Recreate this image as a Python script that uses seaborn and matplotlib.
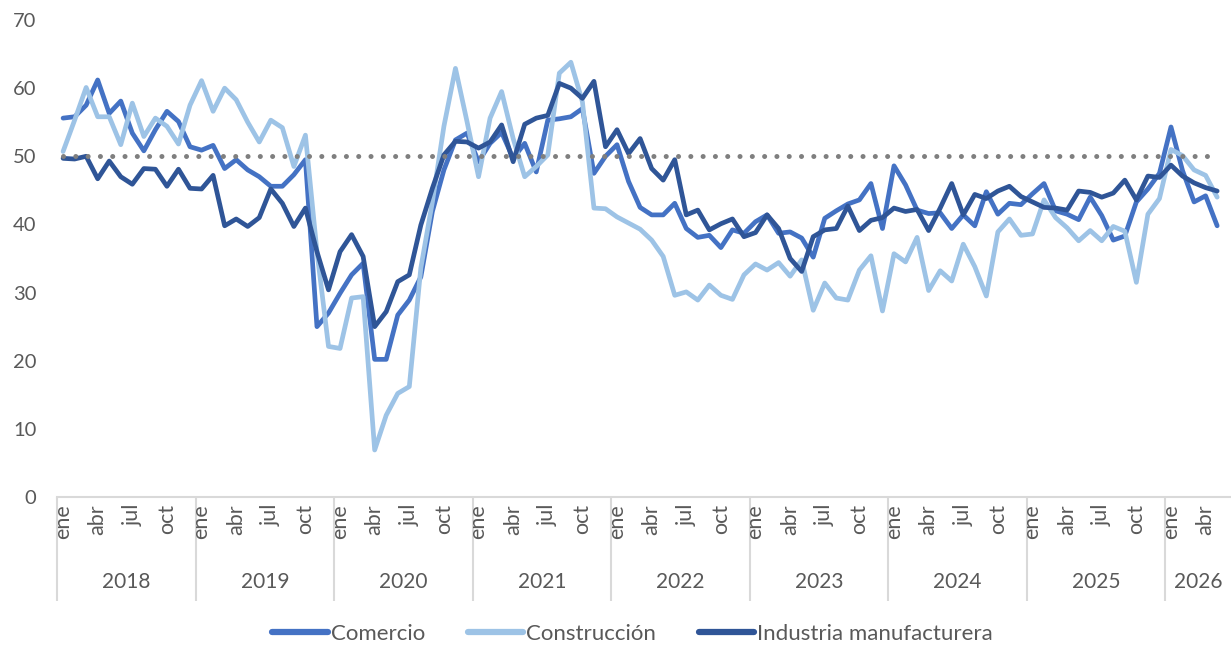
import numpy as np
import pandas as pd
import matplotlib
matplotlib.use("Agg")
import matplotlib.pyplot as plt
from matplotlib.lines import Line2D
import seaborn as sns

# ---------------- data ----------------
years = [2018, 2019, 2020, 2021, 2022, 2023, 2024, 2025, 2026]
month_abbr = ["ene", "feb", "mar", "abr", "may", "jun",
              "jul", "ago", "sep", "oct", "nov", "dic"]
shown_months = ["ene", "abr", "jul", "oct"]

comercio = [
    55.6, 55.8, 57.5, 61.2, 56.3, 58.1, 53.4, 50.8, 53.9, 56.6, 55.1, 51.4,
    50.9, 51.6, 48.2, 49.5, 48.0, 47.0, 45.6, 45.6, 47.3, 49.5, 25.0, 27.0,
    29.9, 32.6, 34.3, 20.2, 20.2, 26.7, 28.9, 32.3, 41.9, 48.0, 52.4, 53.4,
    49.2, 51.9, 53.5, 49.7, 51.9, 47.7, 55.3, 55.5, 55.8, 57.0, 47.5, 50.0,
    51.7, 46.3, 42.5, 41.4, 41.4, 43.1, 39.4, 38.1, 38.4, 36.6, 39.2, 38.7,
    40.4, 41.4, 38.7, 38.9, 38.0, 35.2, 40.9, 42.0, 43.0, 43.6, 46.0, 39.4,
    48.6, 45.8, 42.1, 41.6, 41.7, 39.4, 41.4, 39.8, 44.8, 41.5, 43.1, 42.9,
    44.5, 46.0, 42.0, 41.5, 40.7, 44.0, 41.3, 37.7, 38.3, 43.3, 45.2, 47.5,
    54.3, 47.9, 43.3, 44.2, 39.8,
]
construccion = [
    50.7, 55.3, 60.1, 55.8, 55.8, 51.7, 57.8, 52.9, 55.6, 54.4, 51.8, 57.5,
    61.1, 56.6, 60.0, 58.3, 55.0, 52.1, 55.3, 54.2, 48.5, 53.1, 36.0, 22.1,
    21.8, 29.2, 29.4, 6.9, 12.0, 15.2, 16.2, 33.6, 43.3, 54.4, 62.9, 55.1,
    47.0, 55.6, 59.5, 52.6, 47.0, 48.5, 50.2, 62.2, 63.8, 58.0, 42.4, 42.3,
    41.1, 40.2, 39.3, 37.7, 35.3, 29.6, 30.1, 28.9, 31.1, 29.6, 29.0, 32.6,
    34.2, 33.3, 34.4, 32.4, 34.8, 27.4, 31.4, 29.2, 28.9, 33.3, 35.4, 27.3,
    35.7, 34.5, 38.1, 30.3, 33.2, 31.7, 37.1, 33.8, 29.5, 38.9, 40.8, 38.4,
    38.6, 43.6, 41.0, 39.5, 37.6, 39.1, 37.6, 39.7, 39.0, 31.5, 41.5, 43.8,
    51.0, 50.1, 48.0, 47.2, 44.0,
]
industria = [
    49.7, 49.6, 50.0, 46.7, 49.3, 47.0, 45.9, 48.2, 48.1, 45.6, 48.1, 45.3,
    45.2, 47.2, 39.8, 40.8, 39.7, 41.0, 45.2, 43.1, 39.7, 42.4, 36.0, 30.4,
    36.0, 38.5, 35.3, 25.0, 27.2, 31.6, 32.6, 39.9, 45.3, 50.2, 52.2, 52.1,
    51.2, 52.1, 54.6, 49.2, 54.7, 55.6, 56.0, 60.7, 60.0, 58.5, 61.0, 51.4,
    53.9, 50.4, 52.6, 48.2, 46.5, 49.5, 41.4, 42.1, 39.2, 40.1, 40.8, 38.2,
    38.8, 41.4, 39.4, 35.0, 33.1, 38.2, 39.2, 39.4, 42.7, 39.1, 40.6, 41.0,
    42.4, 41.9, 42.2, 39.1, 42.4, 46.0, 41.4, 44.4, 43.8, 44.9, 45.6, 44.1,
    43.3, 42.5, 42.4, 42.1, 44.9, 44.7, 44.0, 44.6, 46.5, 43.6, 47.1, 46.9,
    48.7, 47.1, 46.1, 45.4, 44.9,
]
umbral = 50

series_names = ["Comercio", "Construcción", "Industria manufacturera"]
colors = ["#4472C4", "#9DC3E6", "#2F5597"]

n = len(comercio)
t = np.arange(n)
df = pd.DataFrame({
    "t": t,
    "Comercio": comercio,
    "Construcción": construccion,
    "Industria manufacturera": industria,
}).melt(id_vars="t", var_name="serie", value_name="valor")
df_umbral = pd.DataFrame({"t": t, "valor": [umbral] * n})

# ---------------- style ----------------
sns.set_style("white")
plt.rcParams["font.family"] = ["Lato", "DejaVu Sans"]
grey_txt = "#595959"
axis_grey = "#D9D9D9"

W, H = 1231, 647
fig = plt.figure(figsize=(W / 100, H / 100), dpi=100)
left_px, bottom_px, top_px = 57.3, 497, 20
ax = fig.add_axes([left_px / W, (H - bottom_px) / H,
                   (W - left_px) / W, (bottom_px - top_px) / H])

sns.lineplot(data=df, x="t", y="valor", hue="serie", hue_order=series_names,
             palette=dict(zip(series_names, colors)), linewidth=3.4,
             legend=False, ax=ax, solid_joinstyle="round", solid_capstyle="round")
sns.lineplot(data=df_umbral, x="t", y="valor", color="#7F7F7F", linewidth=3.6,
             linestyle=(0, (0.01, 2.45)), dash_capstyle="round", ax=ax, legend=False)

ax.set_xlim(-0.5, 101.2)
ax.set_ylim(0, 70)
ax.set_yticks(range(0, 71, 10))
ax.tick_params(axis="y", left=False, length=0, pad=15, labelsize=14.5, labelcolor=grey_txt)
ax.set_xlabel("")
ax.set_ylabel("")

for s in ["top", "right", "left"]:
    ax.spines[s].set_visible(False)
ax.spines["bottom"].set_color(axis_grey)
ax.spines["bottom"].set_linewidth(1.5)

# year separators as long ticks
boundaries = [12 * k - 0.5 for k in range(len(years))]
ax.set_xticks(boundaries)
ax.set_xticklabels([""] * len(boundaries))
ax.tick_params(axis="x", bottom=True, length=75, width=1.5, color=axis_grey,
               direction="out")

# month labels
for i in range(n):
    m = month_abbr[i % 12]
    if m in shown_months:
        ax.annotate(m, xy=(i, 0), xycoords=("data", "axes fraction"),
                    xytext=(0, -5), textcoords="offset points",
                    rotation=90, ha="center", va="top",
                    fontsize=15.5, color=grey_txt)

# year labels
right_lim = ax.get_xlim()[1]
for k, y in enumerate(years):
    start = 12 * k - 0.5
    end = min(start + 12, right_lim)
    ax.annotate(str(y), xy=((start + end) / 2, 0),
                xycoords=("data", "axes fraction"),
                xytext=(0, -61), textcoords="offset points",
                ha="center", va="center", fontsize=15, color=grey_txt)

handles = [Line2D([0], [0], color=c, lw=4.5, solid_capstyle="round") for c in colors]
fig.legend(handles, series_names, loc="center", bbox_to_anchor=(0.514, 13 / H),
           ncol=3, frameon=False, fontsize=16, handlelength=2.5,
           handletextpad=0.15, columnspacing=1.9, labelcolor=grey_txt)

fig.savefig("out.png", dpi=100)
